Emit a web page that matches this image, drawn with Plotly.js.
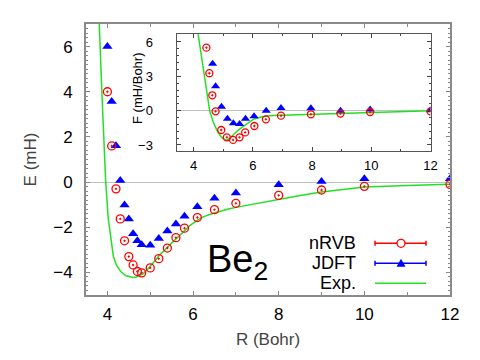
<!DOCTYPE html>
<html>
<head>
<meta charset="utf-8">
<script src="https://cdn.plot.ly/plotly-3.0.1.min.js"></script>
<style>
  body { margin: 0; background: #fff; }
  #myPlot { width: 480px; height: 360px; }
</style>
</head>
<body>
<div id="myPlot"></div>
<script>
// Binding curve E(R), main panel
const rRvb = [4.0, 4.1, 4.2, 4.3, 4.4, 4.5, 4.6, 4.7, 4.8, 5.0, 5.2, 5.4, 5.6, 5.8, 6.1, 6.5, 7.0, 8, 9, 10, 12];
const eRvb = [4.0, 1.6, -0.3, -1.63, -2.6, -3.3, -3.67, -3.96, -4.02, -3.8, -3.39, -2.92, -2.46, -2.04, -1.57, -1.22, -0.94, -0.59, -0.35, -0.19, -0.1];

const rJdft = [4.0, 4.1, 4.2, 4.3, 4.4, 4.5, 4.6, 4.7, 4.8, 5.0, 5.2, 5.4, 5.6, 5.8, 6.1, 6.5, 7.0, 8, 9, 10, 12];
const eJdft = [6.0, 3.57, 1.61, 0.07, -1.01, -1.63, -2.29, -2.6, -2.77, -2.8, -2.5, -2.17, -1.86, -1.51, -1.09, -0.72, -0.48, -0.12, 0.03, 0.15, 0.15];

const rExp = [3.79, 3.81, 3.87, 3.93, 3.96, 4.02, 4.08, 4.14, 4.21, 4.31, 4.43, 4.52, 4.6, 4.68, 4.76, 4.84, 4.93, 5.02, 5.11, 5.21, 5.33, 5.45, 5.57, 5.68, 5.8, 5.91, 6.06, 6.22, 6.42, 6.62, 6.8, 7.0, 7.25, 7.5, 7.75, 8, 8.5, 9, 9.5, 10, 11, 12];
const eExp = [7.6, 7.0, 4.0, 1.56, 0, -1.63, -2.6, -3.3, -3.67, -3.96, -4.15, -4.2, -4.22, -4.2, -4.14, -4.05, -3.88, -3.7, -3.48, -3.25, -3.01, -2.78, -2.57, -2.38, -2.16, -1.95, -1.74, -1.55, -1.41, -1.29, -1.2, -1.12, -1.03, -0.94, -0.84, -0.75, -0.59, -0.44, -0.32, -0.22, -0.15, -0.1];

// Forces F(R), inset
const rRvbF = [4.43, 4.53, 4.63, 4.74, 4.93, 5.12, 5.33, 5.55, 5.74, 6.05, 6.44, 6.95, 7.96, 8.96, 9.96, 12];
const fRvb = [5.5, 3.27, 1.34, -0.06, -1.69, -2.33, -2.56, -2.33, -1.9, -1.34, -0.76, -0.44, -0.32, -0.26, -0.12, -0.06];

const rJdftF = [4.64, 4.74, 4.94, 5.14, 5.34, 5.55, 5.75, 6.04, 6.45, 6.95, 7.96, 8.96, 9.96, 12];
const fJdft = [4.09, 2.13, 0.35, -0.7, -1.11, -1.17, -0.7, -0.5, 0.0, 0.23, 0.2, 0.0, 0.09, 0.03];

const rExpF = [4.12, 4.15, 4.24, 4.34, 4.44, 4.54, 4.66, 4.79, 4.9, 4.98, 5.07, 5.14, 5.2, 5.27, 5.35, 5.49, 5.63, 5.77, 5.91, 6.04, 6.25, 6.47, 6.7, 6.95, 7.45, 7.96, 8.96, 9.96, 12];
const fExp = [7.2, 6.67, 4.85, 3.21, 1.5, 0, -1.0, -1.75, -2.19, -2.42, -2.56, -2.56, -2.45, -2.27, -2.04, -1.74, -1.46, -1.19, -0.94, -0.73, -0.58, -0.46, -0.42, -0.4, -0.36, -0.32, -0.26, -0.13, 0];

const legendNames = ["nRVB", "JDFT", "Exp."];

const red = "#ff0000";
const blue = "#0000ff";
const green = "#22e022";
const font = "Liberation Sans, Arial, sans-serif";

function rvbTrace(x, y, xa, ya, size) {
  return {
    x: x, y: y, xaxis: xa, yaxis: ya, mode: "markers", showlegend: false,
    marker: { symbol: "circle-open-dot", color: red, size: size, line: { width: 1.3, color: red } }
  };
}
function jdftTrace(x, y, xa, ya, size) {
  return {
    x: x, y: y, xaxis: xa, yaxis: ya, mode: "markers", showlegend: false,
    marker: { symbol: "triangle-up", color: blue, size: size, line: { width: 0 } }
  };
}
function expTrace(x, y, xa, ya) {
  return {
    x: x, y: y, xaxis: xa, yaxis: ya, mode: "lines", showlegend: false,
    line: { color: green, width: 1.5, shape: "linear" }
  };
}

const data = [
  expTrace(rExp, eExp, "x", "y"),
  jdftTrace(rJdft, eJdft, "x", "y", 9),
  rvbTrace(rRvb, eRvb, "x", "y", 8),
  expTrace(rExpF, fExp, "x2", "y2"),
  jdftTrace(rJdftF, fJdft, "x2", "y2", 8),
  rvbTrace(rRvbF, fRvb, "x2", "y2", 7)
];

// helpers: pixel -> paper (plot area 86..450 x 24..295)
function px(v) { return (v - 86) / 364; }
function py(v) { return (295 - v) / 271; }

const rowY = [243.3, 263.3, 283.3];
const rowCol = [red, blue, green];

const annotations = [{
  text: "Be<sub>2</sub>", xref: "paper", yref: "paper",
  x: px(205), y: py(262), xanchor: "left", yanchor: "middle",
  showarrow: false, font: { family: font, size: 38, color: "#000" }
}, {
  text: "F (mH/Bohr)", xref: "paper", yref: "paper", textangle: -90,
  x: px(137), y: py(88), xanchor: "center", yanchor: "middle",
  showarrow: false, font: { family: font, size: 13, color: "#000" }
}];
const shapes = [];
legendNames.forEach(function (name, i) {
  annotations.push({
    text: name, xref: "paper", yref: "paper", x: px(358), y: py(rowY[i]),
    xanchor: "right", yanchor: "middle", showarrow: false,
    font: { family: font, size: 18, color: "#000" }
  });
  shapes.push({
    type: "line", xref: "paper", yref: "paper",
    x0: px(375), x1: px(426), y0: py(rowY[i]), y1: py(rowY[i]),
    line: { color: rowCol[i], width: 1.5 }
  });
  if (i < 2) {
    [375, 426].forEach(function (cx) {
      shapes.push({
        type: "line", xref: "paper", yref: "paper", ysizemode: "pixel",
        yanchor: py(rowY[i]), x0: px(cx), x1: px(cx), y0: -2.5, y1: 2.5,
        line: { color: rowCol[i], width: 1.5 }
      });
    });
  }
});
// legend samples
shapes.push({
  type: "circle", xref: "paper", yref: "paper", xsizemode: "pixel", ysizemode: "pixel",
  xanchor: px(401), yanchor: py(rowY[0]), x0: -4, x1: 4, y0: -4, y1: 4,
  fillcolor: "#fff", line: { color: red, width: 1.3 }
});
shapes.push({
  type: "path", xref: "paper", yref: "paper", xsizemode: "pixel", ysizemode: "pixel",
  xanchor: px(401), yanchor: py(rowY[1]), path: "M -4.5 -3.5 L 4.5 -3.5 L 0 4.5 Z",
  fillcolor: blue, line: { color: blue, width: 0 }
});

const frame = "#8a8a8a";
const tickFont = { family: font, size: 17, color: "#000" };
const insetFont = { family: font, size: 13, color: "#000" };

const layout = {
  width: 480, height: 360,
  margin: { l: 86, r: 30, t: 24, b: 65 },
  paper_bgcolor: "#fff", plot_bgcolor: "#fff",
  font: { family: font },
  xaxis: {
    range: [3.5, 12], tickvals: [4, 6, 8, 10, 12], ticks: "inside", ticklen: 4,
    tickcolor: frame, tickwidth: 1, showline: true, linecolor: frame, linewidth: 2,
    mirror: "ticks", showgrid: false, zeroline: false, tickfont: tickFont,
    ticklabelstandoff: 3,
    minor: { dtick: 1, tick0: 0, ticks: "inside", ticklen: 3, tickcolor: frame },
    title: { text: "R (Bohr)", font: { family: font, size: 17 }, standoff: 10 }
  },
  yaxis: {
    range: [-5, 7], dtick: 2, tick0: 0, ticks: "inside", ticklen: 4,
    tickcolor: frame, tickwidth: 1, showline: true, linecolor: frame, linewidth: 2,
    mirror: "ticks", showgrid: false, zeroline: true, zerolinecolor: "#c0c0c0",
    zerolinewidth: 1, tickfont: tickFont, ticklabelstandoff: 8,
    minor: { dtick: 0.2, tick0: 0, ticks: "inside", ticklen: 2, tickcolor: frame },
    title: { text: "E (mH)", font: { family: font, size: 17 }, standoff: 12 }
  },
  xaxis2: {
    domain: [px(176.5), px(430.5)], anchor: "y2",
    range: [3.42, 12], tickvals: [4, 6, 8, 10, 12], ticks: "inside", ticklen: 4,
    tickcolor: "#444", showline: true, linecolor: "#555", linewidth: 1,
    mirror: "ticks", showgrid: false, zeroline: false, tickfont: insetFont,
    ticklabelstandoff: 3,
    minor: { dtick: 1, tick0: 0, ticks: "inside", ticklen: 2, tickcolor: "#444" }
  },
  yaxis2: {
    domain: [py(150.7), py(34.3)], anchor: "x2",
    range: [-3.5, 6.67], tickvals: [-3, 0, 3, 6], ticks: "inside", ticklen: 4,
    tickcolor: "#444", showline: true, linecolor: "#555", linewidth: 1,
    mirror: "ticks", showgrid: false, zeroline: true, zerolinecolor: "#c0c0c0",
    zerolinewidth: 1, tickfont: insetFont, ticklabelstandoff: 20,
    minor: { dtick: 0.6, tick0: 0, ticks: "inside", ticklen: 2, tickcolor: "#444" }
  },
  annotations: annotations,
  shapes: shapes
};

Plotly.newPlot("myPlot", data, layout, { staticPlot: true });
</script>
</body>
</html>
